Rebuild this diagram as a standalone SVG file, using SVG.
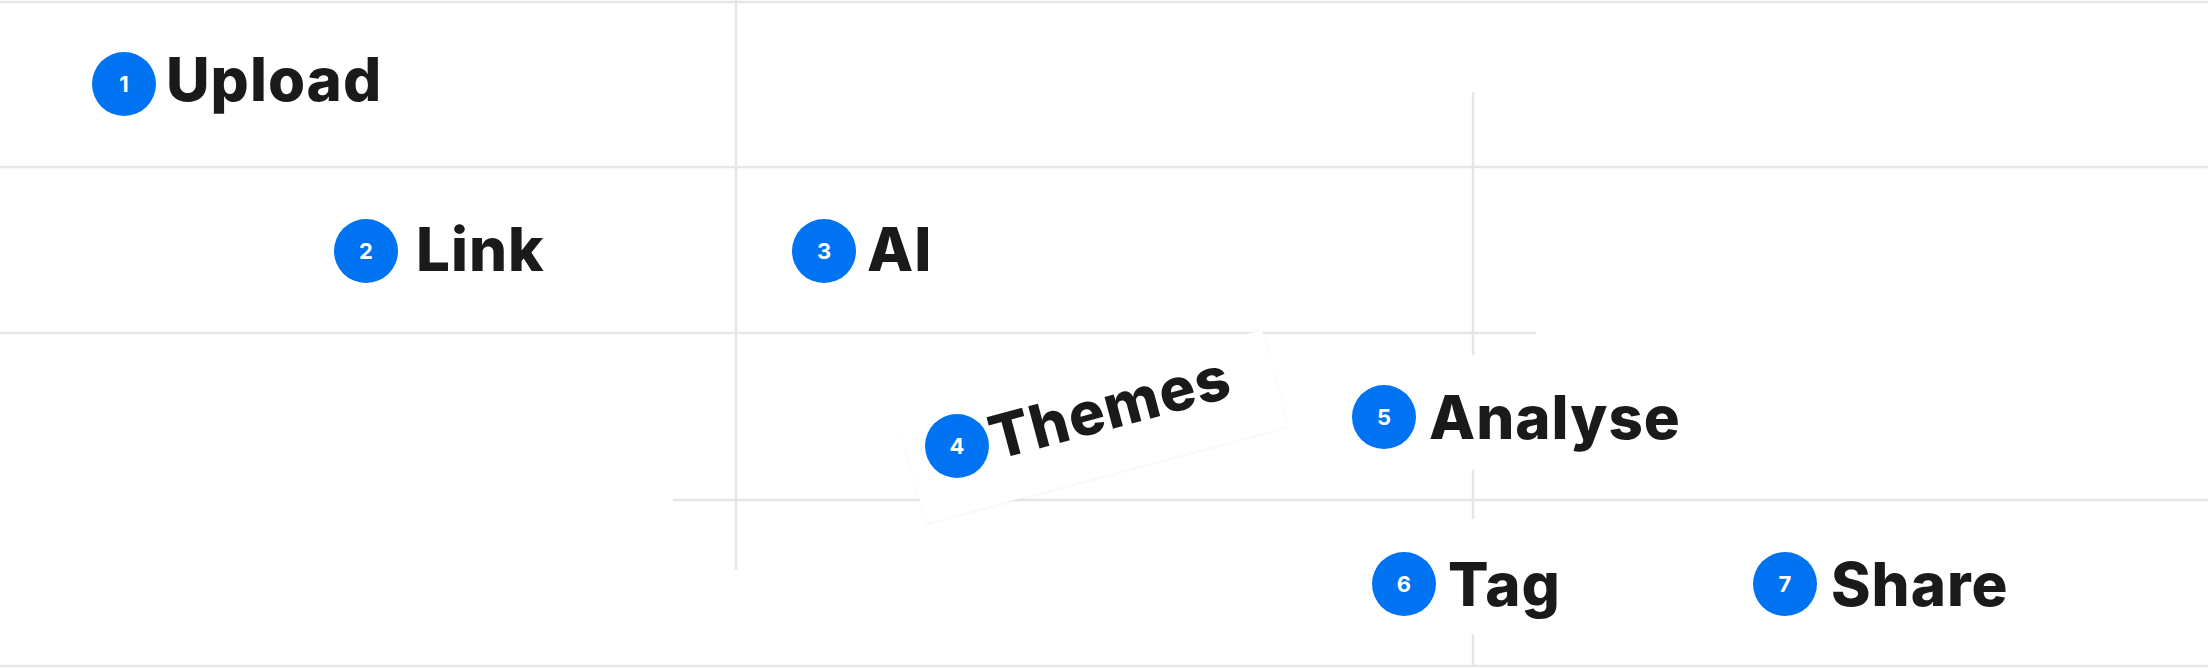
<svg xmlns="http://www.w3.org/2000/svg" width="2208" height="668" viewBox="0 0 2208 668">
<style>
.grid{stroke:#e6e6e6;stroke-width:2.5;fill:none}
.dot{fill:#0073f2}
.num{fill:#fff;font-family:Inter,"Liberation Sans",sans-serif;font-weight:700;font-size:22px;text-anchor:middle}
.lbl{fill:#1a1a1a;font-family:Inter,"Liberation Sans",sans-serif;font-weight:800;font-size:60px;letter-spacing:1px}
</style>
<rect width="2208" height="668" fill="#fff"/>
<g id="connectors">
<line class="grid" x1="0" y1="2" x2="2208" y2="2"/>
<line class="grid" x1="0" y1="167" x2="2208" y2="167"/>
<line class="grid" x1="0" y1="333" x2="1536" y2="333"/>
<line class="grid" x1="673" y1="500" x2="2208" y2="500"/>
<line class="grid" x1="0" y1="666" x2="2208" y2="666"/>
<line class="grid" x1="736" y1="0" x2="736" y2="570"/>
<line class="grid" x1="1473" y1="92" x2="1473" y2="355"/>
<line class="grid" x1="1473" y1="470" x2="1473" y2="519"/>
<line class="grid" x1="1473" y1="634" x2="1473" y2="666"/>
</g>
<g id="n1"><circle class="dot" cx="124" cy="84" r="32"/><text class="num" x="124" y="92">1</text><text class="lbl" x="166" y="101">Upload</text></g>
<g id="n2"><circle class="dot" cx="366" cy="251" r="32"/><text class="num" x="366" y="259">2</text><text class="lbl" x="416" y="271">Link</text></g>
<g id="n3"><circle class="dot" cx="824" cy="251" r="32"/><text class="num" x="824" y="259">3</text><text class="lbl" x="867" y="271">AI</text></g>
<g id="n4">
<g transform="rotate(-15 1100 420)">
<rect x="905" y="375" width="375" height="100" fill="#fff" style="filter:drop-shadow(0 1px 1px rgba(0,0,0,0.05))"/>
</g>
<circle class="dot" cx="957" cy="446" r="32"/><text class="num" x="957" y="454">4</text>
<text class="lbl" transform="translate(996 460) rotate(-15)">Themes</text>
</g>
<g id="n5"><circle class="dot" cx="1384" cy="417" r="32"/><text class="num" x="1384" y="425">5</text><text class="lbl" x="1429" y="439">Analyse</text></g>
<g id="n6"><circle class="dot" cx="1404" cy="584" r="32"/><text class="num" x="1404" y="592">6</text><text class="lbl" x="1448" y="606">Tag</text></g>
<g id="n7"><circle class="dot" cx="1785" cy="584" r="32"/><text class="num" x="1785" y="592">7</text><text class="lbl" x="1831" y="606">Share</text></g>
</svg>
